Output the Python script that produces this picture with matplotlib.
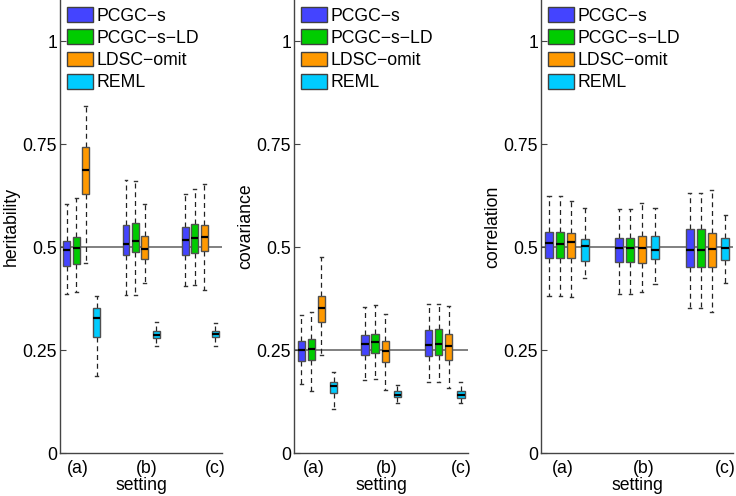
import matplotlib
matplotlib.use('Agg')
import matplotlib.pyplot as plt
from matplotlib.patches import Patch

plt.rcParams['font.family'] = ['Liberation Sans', 'DejaVu Sans']

# methods and settings
methods = ['PCGC\u2212s', 'PCGC\u2212s\u2212LD', 'LDSC\u2212omit', 'REML']
colors = ['#4444FF', '#00CC00', '#FF9900', '#00CCFF']
settings = ['(a)', '(b)', '(c)']

# box order: (a) s, s-LD, omit, REML, (b) ..., (c) ...
h_lo = [0.385, 0.390, 0.461, 0.186, 0.383, 0.384, 0.412, 0.260, 0.405, 0.408, 0.396, 0.260]
h_q1 = [0.455, 0.460, 0.629, 0.281, 0.482, 0.487, 0.470, 0.279, 0.482, 0.486, 0.490, 0.281]
h_med = [0.492, 0.497, 0.687, 0.329, 0.508, 0.515, 0.496, 0.287, 0.518, 0.523, 0.524, 0.290]
h_q3 = [0.516, 0.525, 0.744, 0.352, 0.554, 0.559, 0.527, 0.296, 0.549, 0.555, 0.553, 0.297]
h_hi = [0.605, 0.620, 0.843, 0.381, 0.662, 0.660, 0.605, 0.318, 0.630, 0.640, 0.652, 0.316]

c_lo = [0.167, 0.151, 0.238, 0.107, 0.177, 0.180, 0.153, 0.121, 0.172, 0.172, 0.158, 0.121]
c_q1 = [0.223, 0.226, 0.317, 0.146, 0.239, 0.242, 0.222, 0.135, 0.236, 0.238, 0.227, 0.133]
c_med = [0.249, 0.252, 0.353, 0.162, 0.265, 0.269, 0.247, 0.142, 0.262, 0.265, 0.260, 0.142]
c_q3 = [0.271, 0.276, 0.382, 0.173, 0.287, 0.290, 0.271, 0.150, 0.298, 0.302, 0.288, 0.151]
c_hi = [0.336, 0.343, 0.476, 0.197, 0.354, 0.359, 0.337, 0.166, 0.361, 0.363, 0.358, 0.172]

r_lo = [0.382, 0.382, 0.380, 0.425, 0.385, 0.385, 0.390, 0.410, 0.353, 0.353, 0.342, 0.412]
r_q1 = [0.473, 0.473, 0.473, 0.467, 0.464, 0.464, 0.462, 0.472, 0.451, 0.451, 0.451, 0.468]
r_med = [0.510, 0.507, 0.512, 0.503, 0.499, 0.499, 0.498, 0.494, 0.494, 0.494, 0.496, 0.498]
r_q3 = [0.537, 0.536, 0.535, 0.520, 0.522, 0.521, 0.526, 0.527, 0.544, 0.544, 0.534, 0.523]
r_hi = [0.625, 0.623, 0.612, 0.594, 0.593, 0.593, 0.608, 0.596, 0.631, 0.631, 0.638, 0.578]

# true values (reference lines)
truth = [0.5, 0.25, 0.5]
ylabels = ['heritability', 'covariance', 'correlation']

positions = [1, 2, 3, 4.2, 7.3, 8.3, 9.3, 10.5, 13.6, 14.6, 15.6, 16.8]
tick_pos = [2.2, 9.5, 16.8]

FS = 12.7


def make_stats(lo, q1, med, q3, hi):
    return [dict(whislo=lo[i], q1=q1[i], med=med[i], q3=q3[i], whishi=hi[i], fliers=[])
            for i in range(len(lo))]


fig = plt.figure(figsize=(7.36, 4.96), dpi=100)
bottom = 1 - 453 / 496
height = 1 - bottom
ax_pos = [(60, 162), (294, 174), (541, 192)]
panels = [(h_lo, h_q1, h_med, h_q3, h_hi),
          (c_lo, c_q1, c_med, c_q3, c_hi),
          (r_lo, r_q1, r_med, r_q3, r_hi)]

for k in range(3):
    left, w = ax_pos[k]
    ax = fig.add_axes([left / 736, bottom, w / 736, height])
    ax.axhline(truth[k], color='#808080', lw=1.4, zorder=1)
    stats = make_stats(*panels[k])
    bp = ax.bxp(stats, positions=positions, widths=0.72, patch_artist=True,
                showfliers=False, capwidths=0.3,
                boxprops=dict(edgecolor='#505050', linewidth=1.0),
                whiskerprops=dict(color='#222222', linestyle=(0, (4, 3)), linewidth=0.9),
                capprops=dict(color='#333333', linewidth=1.0),
                medianprops=dict(color='black', linewidth=1.6))
    for i, b in enumerate(bp['boxes']):
        b.set_facecolor(colors[i % 4])
        b.set_zorder(3)
    for m in bp['medians']:
        m.set_zorder(4)
    ax.set_xlim(0.28, 17.5)
    ax.set_ylim(0, 1.1)
    ax.set_yticks([0, 0.25, 0.5, 0.75, 1])
    ax.set_yticklabels(['0', '0.25', '0.5', '0.75', '1'])
    ax.set_xticks(tick_pos)
    ax.set_xticklabels(settings)
    ax.tick_params(axis='y', direction='in', length=4, labelsize=FS, pad=2, color='#444444')
    ax.tick_params(axis='x', length=0, labelsize=FS, pad=5)
    for s in ['top', 'right']:
        ax.spines[s].set_visible(False)
    for s in ['left', 'bottom']:
        ax.spines[s].set_color('#444444')
        ax.spines[s].set_linewidth(1.0)
    ax.set_xlabel('setting', fontsize=FS, labelpad=0)
    ax.set_ylabel(ylabels[k], fontsize=FS, labelpad=2)

    handles = [Patch(facecolor=colors[i], edgecolor='#404040', linewidth=1.0) for i in range(4)]
    ax.legend(handles, methods, loc='upper left', frameon=False, fontsize=FS,
              handlelength=1.45, handleheight=0.92, handletextpad=0.2,
              labelspacing=0.27, borderpad=0.0, borderaxespad=0.4)

fig.savefig('out.png', dpi=100)
